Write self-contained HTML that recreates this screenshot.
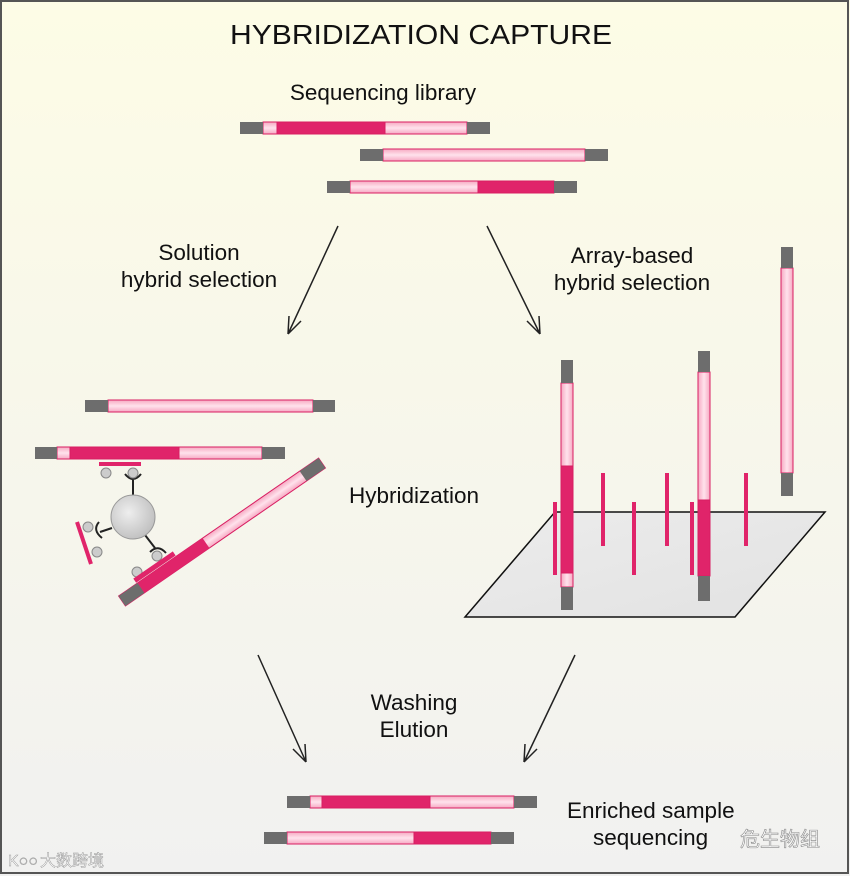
<!DOCTYPE html>
<html><head><meta charset="utf-8"><style>
html,body{margin:0;padding:0;width:850px;height:876px;overflow:hidden}
svg{display:block}
text{font-family:"Liberation Sans","Noto Sans CJK SC",sans-serif;fill:#111}
</style></head><body>
<svg width="850" height="876" viewBox="0 0 850 876" xmlns="http://www.w3.org/2000/svg">
<defs>
<linearGradient id="bg" x1="0" y1="0" x2="0" y2="1">
<stop offset="0" stop-color="#fdfce6"/><stop offset="1" stop-color="#f1f1f0"/></linearGradient>
<linearGradient id="lp" x1="0" y1="0" x2="0" y2="1">
<stop offset="0" stop-color="#f6a9c2"/><stop offset="0.5" stop-color="#ffe2ec"/><stop offset="1" stop-color="#f6a9c2"/></linearGradient>
<linearGradient id="lpv" x1="0" y1="0" x2="1" y2="0">
<stop offset="0" stop-color="#f6a9c2"/><stop offset="0.5" stop-color="#ffe2ec"/><stop offset="1" stop-color="#f6a9c2"/></linearGradient>
<radialGradient id="bead" cx="0.4" cy="0.4" r="0.7"><stop offset="0" stop-color="#eee"/><stop offset="1" stop-color="#bbb"/></radialGradient>
<linearGradient id="plane" x1="0" y1="0" x2="1" y2="1"><stop offset="0" stop-color="#ececec"/><stop offset="1" stop-color="#e2e2e2"/></linearGradient>
</defs>
<rect x="0" y="0" width="850" height="876" fill="url(#bg)"/>
<rect x="1" y="1" width="847" height="872" fill="none" stroke="#555" stroke-width="2"/>

<text x="421" y="44" font-size="28" text-anchor="middle" textLength="382" lengthAdjust="spacingAndGlyphs">HYBRIDIZATION CAPTURE</text>
<g font-size="22.5">
<text x="383" y="100" text-anchor="middle">Sequencing library</text>
<text x="199" y="260" text-anchor="middle">Solution</text>
<text x="199" y="287" text-anchor="middle">hybrid selection</text>
<text x="632" y="263" text-anchor="middle">Array-based</text>
<text x="632" y="290" text-anchor="middle">hybrid selection</text>
<text x="349" y="503">Hybridization</text>
<text x="414" y="710" text-anchor="middle">Washing</text>
<text x="414" y="737" text-anchor="middle">Elution</text>
<text x="567" y="818">Enriched sample</text>
<text x="593" y="845">sequencing</text>
</g>

<g stroke="#d81e62" stroke-width="1">
<rect x="263" y="122" width="204" height="12" fill="url(#lp)"/>
<rect x="277" y="122" width="108" height="12" fill="#e0246a"/>
<rect x="383" y="149" width="202" height="12" fill="url(#lp)"/>
<rect x="350" y="181" width="204" height="12" fill="url(#lp)"/>
<rect x="478" y="181" width="76" height="12" fill="#e0246a"/>
<rect x="108" y="400" width="205" height="12" fill="url(#lp)"/>
<rect x="57" y="447" width="205" height="12" fill="url(#lp)"/>
<rect x="70" y="447" width="109" height="12" fill="#e0246a"/>
<rect x="310" y="796" width="204" height="12" fill="url(#lp)"/>
<rect x="322" y="796" width="108" height="12" fill="#e0246a"/>
<rect x="287" y="832" width="204" height="12" fill="url(#lp)"/>
<rect x="414" y="832" width="77" height="12" fill="#e0246a"/>
</g>
<g fill="#6d6d6d">
<rect x="240" y="122" width="23" height="12"/><rect x="467" y="122" width="23" height="12"/>
<rect x="360" y="149" width="23" height="12"/><rect x="585" y="149" width="23" height="12"/>
<rect x="327" y="181" width="23" height="12"/><rect x="554" y="181" width="23" height="12"/>
<rect x="85" y="400" width="23" height="12"/><rect x="313" y="400" width="22" height="12"/>
<rect x="35" y="447" width="22" height="12"/><rect x="262" y="447" width="23" height="12"/>
<rect x="287" y="796" width="23" height="12"/><rect x="514" y="796" width="23" height="12"/>
<rect x="264" y="832" width="23" height="12"/><rect x="491" y="832" width="23" height="12"/>
</g>

<g stroke="#222" stroke-width="1.5" fill="none">
<path d="M338 226 L288 334 M288 334 L289 316 M288 334 L301 321"/>
<path d="M487 226 L540 334 M540 334 L527 321 M540 334 L539 316"/>
<path d="M258 655 L306 762 M306 762 L293 749 M306 762 L305 744"/>
<path d="M575 655 L524 762 M524 762 L525 744 M524 762 L537 749"/>
</g>

<text x="740" y="846" font-size="20" style="fill:#fff;stroke:#888;stroke-width:0.6">危生物组</text>
<text x="40" y="866" font-size="16" style="fill:#fff;stroke:#999;stroke-width:0.5">大数跨境</text>
<text x="8" y="866" font-size="16" style="fill:#fff;stroke:#999;stroke-width:0.5">K○○</text>

<rect x="99" y="462" width="42" height="4" fill="#e0246a"/>
<g stroke="#222" stroke-width="2" fill="none">
<line x1="133" y1="480" x2="133" y2="495"/>
<line x1="112" y1="528" x2="100" y2="532"/>
<line x1="145" y1="535" x2="155" y2="548"/>
<path d="M125 474 Q133 484 141 474"/>
<path d="M99 522 Q92 530 102 538"/>
<path d="M150 552 Q158 544 166 553"/>
</g>
<circle cx="133" cy="517" r="22" fill="url(#bead)" stroke="#999"/>
<g fill="#ccc" stroke="#888" stroke-width="1">
<circle cx="106" cy="473" r="5"/><circle cx="133" cy="473" r="5"/>
<circle cx="88" cy="527" r="5"/><circle cx="97" cy="552" r="5"/>
<circle cx="157" cy="556" r="5"/><circle cx="137" cy="572" r="5"/>
</g>
<line x1="77" y1="522" x2="91" y2="564" stroke="#e0246a" stroke-width="4"/>
<g transform="translate(122,601) rotate(-34.6)">
<rect x="0" y="-6" width="243" height="12" fill="url(#lp)" stroke="#d81e62"/>
<rect x="22" y="-6" width="80" height="12" fill="#e0246a"/>
<rect x="0" y="-6" width="23" height="12" fill="#6d6d6d"/>
<rect x="220" y="-6" width="23" height="12" fill="#6d6d6d"/>
<rect x="22" y="-12" width="48" height="5" fill="#e0246a"/>
</g>

<polygon points="465,617 555,512 825,512 735,617" fill="url(#plane)" stroke="#111" stroke-width="1.5"/>
<g fill="#e0246a">
<rect x="553" y="502" width="4" height="73"/>
<rect x="601" y="473" width="4" height="73"/>
<rect x="632" y="502" width="4" height="73"/>
<rect x="665" y="473" width="4" height="73"/>
<rect x="690" y="502" width="4" height="73"/>
<rect x="744" y="473" width="4" height="73"/>
</g>
<g stroke="#d81e62" stroke-width="1">
<rect x="561" y="383" width="12" height="204" fill="url(#lpv)"/>
<rect x="561" y="466" width="12" height="107" fill="#e0246a"/>
<rect x="698" y="372" width="12" height="204" fill="url(#lpv)"/>
<rect x="698" y="500" width="12" height="76" fill="#e0246a"/>
<rect x="781" y="268" width="12" height="205" fill="url(#lpv)"/>
</g>
<g fill="#6d6d6d">
<rect x="561" y="360" width="12" height="23"/><rect x="561" y="587" width="12" height="23"/>
<rect x="698" y="351" width="12" height="21"/><rect x="698" y="576" width="12" height="25"/>
<rect x="781" y="247" width="12" height="21"/><rect x="781" y="473" width="12" height="23"/>
</g>
</svg>
</body></html>
